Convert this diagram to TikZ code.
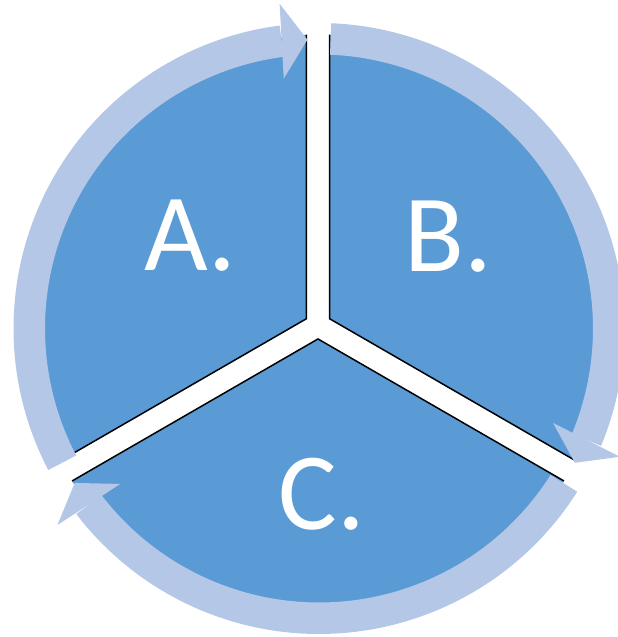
\documentclass[tikz,border=0pt]{standalone}
\usepackage{fontspec}
\setmainfont{Carlito}
\usetikzlibrary{calc}
\definecolor{pieblue}{RGB}{91,155,213}
\definecolor{ringblue}{RGB}{180,199,231}
\tikzset{
  edgeline/.style={draw=black, line width=1.5pt},
  sectorfill/.style={fill=pieblue},
  ringfill/.style={fill=ringblue},
  biglabel/.style={text=white, inner sep=0pt, font=\fontsize{110}{110}\selectfont}
}
\begin{document}
\begin{tikzpicture}[x=1pt,y=1pt]
\useasboundingbox (0,0) rectangle (618,637);
\coordinate (P) at (318,311.5);
\coordinate (O) at (319,308.5);
% sectors
\foreach \n/\m in {A/150,B/30,C/270}{
  \coordinate (v\n) at ($(P)+(\m:13.45)$);
  \coordinate (e\n1) at ($(P)+({\m-57.7}:291)$);
  \coordinate (e\n2) at ($(P)+({\m+57.7}:291)$);
  \path[sectorfill] (v\n) -- (e\n1) arc[start angle={\m-57.7}, end angle={\m+57.7}, radius=291] -- cycle;
  \draw[edgeline] (e\n1) -- (v\n) -- (e\n2);
}
% ring arrows
\foreach \n/\s/\b/\t in {A/207.6/97.4/92.3, B/87.7/-22.6/-27.7, C/327.7/217.4/212.3}{
  \coordinate (so\n) at ($(O)+(\s:305.5)$);
  \coordinate (bi\n) at ($(O)+(\b:274)$);
  \path[ringfill] (so\n) arc[start angle=\s, end angle=\b, radius=305.5] -- (bi\n) arc[start angle=\b, end angle=\s, radius=274] -- cycle;
  \coordinate (b\n) at ($(O)+(\b:289.75)$);
  \coordinate (t\n) at ($(O)+(\t:289)$);
  \coordinate (h\n1) at ($(b\n)!37.5pt!90:(t\n)$);
  \coordinate (h\n2) at ($(b\n)!37.5pt!-90:(t\n)$);
  \path[ringfill] (h\n1) -- (t\n) -- (h\n2) -- cycle;
}
\node[biglabel] (la) at (190.5,401) {A.};
\node[biglabel] (lb) at (448,400.3) {B.};
\node[biglabel] (lc) at (322,143) {C.};
\end{tikzpicture}
\end{document}
